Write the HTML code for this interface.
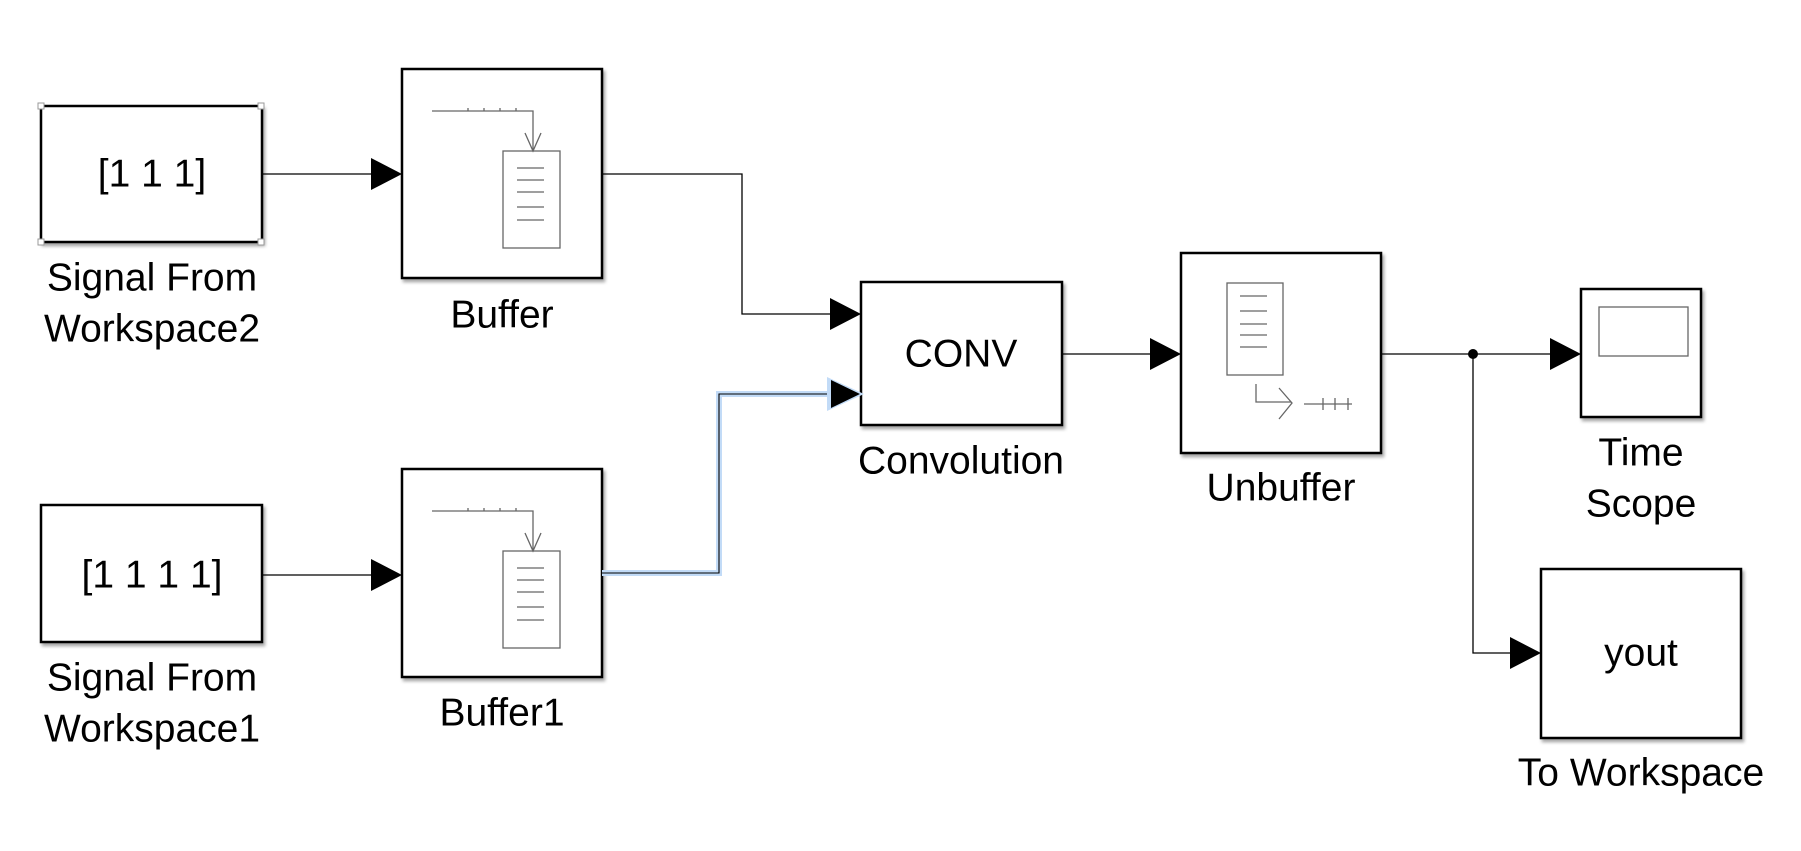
<!DOCTYPE html>
<html><head><meta charset="utf-8"><style>
html,body{margin:0;padding:0;background:#fff}
svg{display:block}
text{font-family:"Liberation Sans",Arial,sans-serif;font-size:39px;fill:#000}
</style></head><body>
<svg width="1801" height="851" viewBox="0 0 1801 851" xmlns="http://www.w3.org/2000/svg">
<defs>
<filter id="sh" x="-10%" y="-10%" width="130%" height="130%"><feDropShadow dx="2" dy="3" stdDeviation="1.5" flood-color="#000" flood-opacity="0.35"/></filter>
</defs>
<g fill="#fff" stroke="#000" stroke-width="2.5" filter="url(#sh)">
<rect x="41" y="106" width="221" height="136"/>
<rect x="402" y="69" width="200" height="209"/>
<rect x="41" y="505" width="221" height="137"/>
<rect x="402" y="469" width="200" height="208"/>
<rect x="861" y="282" width="201" height="143"/>
<rect x="1181" y="253" width="200" height="200"/>
<rect x="1581" y="289" width="120" height="128"/>
<rect x="1541" y="569" width="200" height="169"/>
</g>
<g fill="#fff" stroke="#999" stroke-width="1">
<rect x="38" y="103" width="6" height="6"/><rect x="258" y="103" width="6" height="6"/>
<rect x="38" y="239" width="6" height="6"/><rect x="258" y="239" width="6" height="6"/>
</g>
<g fill="none" stroke="#000" stroke-width="1.3">
<line x1="262" y1="174" x2="372" y2="174"/>
<polyline points="602,174 742,174 742,314 832,314"/>
<line x1="262" y1="575" x2="372" y2="575"/>
<line x1="1062" y1="354" x2="1152" y2="354"/>
<polyline points="1381,354 1552,354"/>
<polyline points="1473,354 1473,653 1512,653"/>
</g>
<polyline points="602,573 719,573 719,394 832,394" fill="none" stroke="#c2dbf7" stroke-width="6"/>
<polyline points="602,573 719,573 719,394 832,394" fill="none" stroke="#000" stroke-width="1.1"/>
<polygon points="827,377 864,394 827,411" fill="#c2dbf7"/>
<g fill="#000">
<polygon points="371,158 402,174 371,190"/>
<polygon points="830,298 861,314 830,330"/>
<polygon points="831,380 860,394 831,408"/>
<polygon points="371,559 402,575 371,591"/>
<polygon points="1150,338 1181,354 1150,370"/>
<polygon points="1550,338 1581,354 1550,370"/>
<polygon points="1510,637 1541,653 1510,669"/>
<circle cx="1473" cy="354" r="5"/>
</g>
<g id="bi" fill="none" stroke="#666" stroke-width="1.3">
<polyline points="432,111 533,111 533,151"/>
<line x1="468" y1="108" x2="468" y2="111"/><line x1="484" y1="108" x2="484" y2="111"/><line x1="500" y1="108" x2="500" y2="111"/><line x1="516" y1="108" x2="516" y2="111"/>
<polyline points="525,133 533,151 541,133"/>
<rect x="503" y="151" width="57" height="97"/>
<line x1="517" y1="168" x2="544" y2="168"/><line x1="517" y1="180" x2="544" y2="180"/><line x1="517" y1="192" x2="544" y2="192"/><line x1="517" y1="207" x2="544" y2="207"/><line x1="517" y1="220" x2="544" y2="220"/>
</g>
<use href="#bi" transform="translate(0,400)"/>
<g fill="none" stroke="#666" stroke-width="1.3">
<rect x="1227" y="283" width="56" height="92"/>
<line x1="1240" y1="296" x2="1267" y2="296"/><line x1="1240" y1="311" x2="1267" y2="311"/><line x1="1240" y1="324" x2="1267" y2="324"/><line x1="1240" y1="335" x2="1267" y2="335"/><line x1="1240" y1="347" x2="1267" y2="347"/>
<polyline points="1256,384 1256,402 1291,402"/>
<polyline points="1279,388 1292,403 1279,419"/>
<line x1="1304" y1="404" x2="1352" y2="404"/>
<line x1="1323" y1="398" x2="1323" y2="410"/><line x1="1335" y1="398" x2="1335" y2="410"/><line x1="1348" y1="398" x2="1348" y2="410"/>
</g>
<rect x="1599" y="307" width="89" height="49" fill="none" stroke="#666" stroke-width="1.3"/>
<g text-anchor="middle" dominant-baseline="central">
<text x="152" y="174">[1 1 1]</text>
<text x="152" y="575">[1 1 1 1]</text>
<text x="961" y="354">CONV</text>
<text x="1641" y="653">yout</text>
<text x="152" y="278">Signal From</text>
<text x="152" y="329">Workspace2</text>
<text x="502" y="315">Buffer</text>
<text x="152" y="678">Signal From</text>
<text x="152" y="729">Workspace1</text>
<text x="502" y="713">Buffer1</text>
<text x="961" y="461">Convolution</text>
<text x="1281" y="488">Unbuffer</text>
<text x="1641" y="453">Time</text>
<text x="1641" y="504">Scope</text>
<text x="1641" y="773">To Workspace</text>
</g>
</svg>
</body></html>
